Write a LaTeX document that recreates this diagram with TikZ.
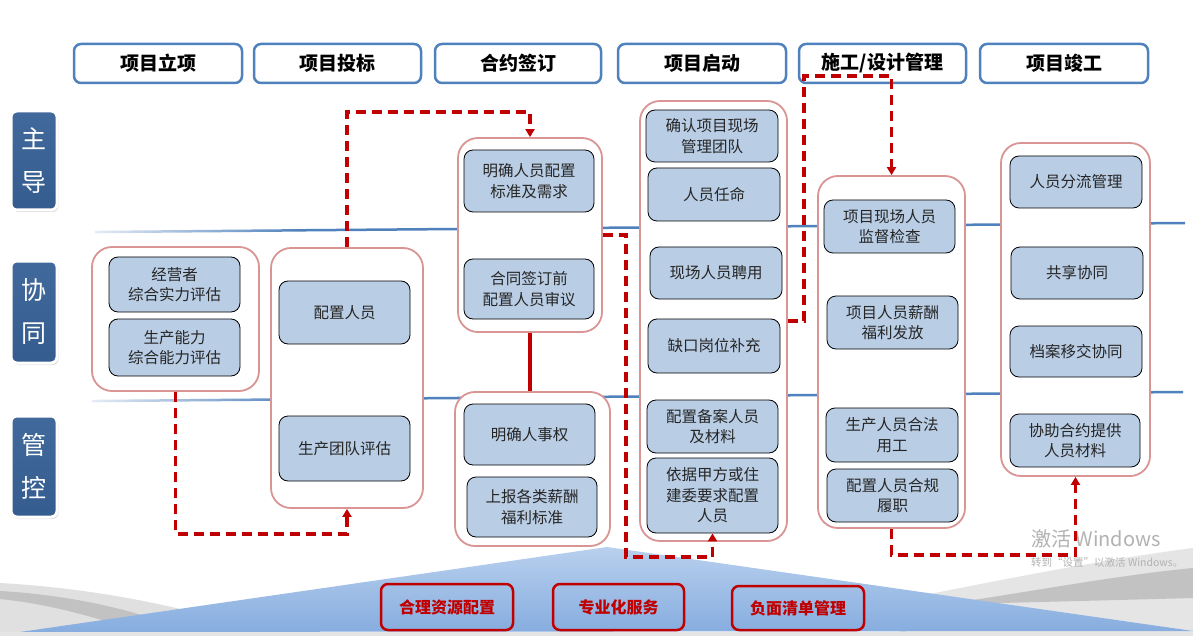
\documentclass[tikz,border=0pt]{standalone}
\usepackage{fontspec}
\newfontfamily\cjk{Noto Sans CJK SC}
\usetikzlibrary{arrows.meta,shadows}
\definecolor{hblue}{HTML}{4F81BD}
\definecolor{nblue}{HTML}{B9CDE5}
\definecolor{gpink}{HTML}{D99594}
\definecolor{dred}{HTML}{C00000}
\definecolor{sideblue}{HTML}{345C8F}
\definecolor{sidebluetop}{HTML}{41699B}
\definecolor{tritop}{HTML}{B9D0EE}
\definecolor{tribot}{HTML}{86ADDF}
\begin{document}
\begin{tikzpicture}[x=1pt,y=-1pt,
  head/.style={draw=hblue, line width=2.5pt, fill=white, rounded corners=7pt, inner sep=0pt,
    font=\cjk\bfseries\fontsize{19}{22}\selectfont, text=black},
  box/.style={draw=black, line width=0.8pt, fill=nblue, rounded corners=9pt, align=center,
    inner sep=0pt, font=\cjk\fontsize{15.5}{20.5}\selectfont, text=black!85},
  grp/.style={draw=gpink, line width=1.8pt, fill=white, rounded corners=20pt, inner sep=0pt},
  side/.style={top color=sidebluetop, bottom color=sideblue, draw=white, line width=3pt,
    rounded corners=6pt, drop shadow={opacity=0.3, shadow xshift=1.5pt, shadow yshift=-2pt},
    text=white, align=center, inner sep=0pt, font=\cjk\fontsize{25}{43}\selectfont},
  redbox/.style={draw=dred, line width=2.5pt, rounded corners=7pt, inner sep=0pt,
    font=\cjk\bfseries\fontsize{16}{20}\selectfont, text=dred},
  conn/.style={draw=dred, line width=3.2pt, dash pattern=on 10pt off 6pt},
  tip/.style={-{Triangle[length=8pt,width=9pt]}},
  wmark/.style={text=black!30, anchor=west, inner sep=0pt}
]
\useasboundingbox (0,0) rectangle (1193,636);
\fill[white] (0,0) rectangle (1193,636);

% ---------- bottom background ----------
\fill[black!12] (0,583) .. controls (90,588) and (190,606) .. (270,636) -- (0,636) -- cycle;
\fill[black!24] (0,591) .. controls (70,595) and (140,610) .. (200,636) -- (150,636) .. controls (100,618) and (50,604) .. (0,599) -- cycle;
\fill[black!10] (900,600) .. controls (1000,580) and (1100,560) .. (1193,548) -- (1193,636) -- (900,636) -- cycle;
\fill[black!24] (960,602) .. controls (1040,590) and (1120,575) .. (1193,568) -- (1193,598) .. controls (1120,600) and (1040,602) .. (960,604) -- cycle;
\shade[top color=tritop, bottom color=tribot] (20,632) -- (607,547) -- (1193,631) -- cycle;
\fill[black!10] (0,632) rectangle (1193,636);

% ---------- watermark ----------
\node[wmark, font=\cjk\fontsize{20}{22}\selectfont] (wm1) at (1031,539) {激活 Windows};
\node[wmark, font=\cjk\fontsize{10.5}{12}\selectfont] (wm2) at (1031,563) {转到“设置”以激活 Windows。};

% ---------- swim-lane lines ----------
\shade[left color=hblue!15, right color=hblue] (95,230.8) -- (300,229.1) -- (300,231.6) -- (95,233.3) -- cycle;
\draw[hblue, line width=2.5pt] (300,230.3) -- (1185,223);
\shade[left color=hblue!15, right color=hblue] (92,399.8) -- (300,398.1) -- (300,400.6) -- (92,402.3) -- cycle;
\draw[hblue, line width=2.5pt] (300,399.3) -- (1183,392);

% ---------- headers ----------
\node[head, minimum width=168pt, minimum height=39pt] (h1) at (158,63.5) {项目立项};
\node[head, minimum width=167pt, minimum height=39pt] (h2) at (337.5,63.5) {项目投标};
\node[head, minimum width=166pt, minimum height=39pt] (h3) at (518,63.5) {合约签订};
\node[head, minimum width=168pt, minimum height=39pt] (h4) at (702,63.5) {项目启动};
\node[head, minimum width=167pt, minimum height=39pt] (h5) at (882.5,63.5) {施工/设计管理};
\node[head, minimum width=168pt, minimum height=39pt] (h6) at (1064,63.5) {项目竣工};

% ---------- side labels ----------
\node[side, minimum width=46pt, minimum height=99pt] (s1) at (34,160.5) {主\\导};
\node[side, minimum width=46pt, minimum height=102pt] (s2) at (34,312) {协\\同};
\node[side, minimum width=46pt, minimum height=101pt] (s3) at (34,466.5) {管\\控};

% ---------- groups ----------
\node[grp, minimum width=167pt, minimum height=144pt] (G1) at (175.5,319) {};
\node[grp, minimum width=152pt, minimum height=260pt] (G2) at (347,378) {};
\node[grp, minimum width=144pt, minimum height=194pt] (G3a) at (530,235) {};
\node[grp, minimum width=155pt, minimum height=154pt] (G3b) at (532.5,469) {};
\node[grp, minimum width=147pt, minimum height=440pt] (G4) at (713.5,321) {};
\node[grp, minimum width=147pt, minimum height=352pt] (G5) at (891.5,352) {};
\node[grp, minimum width=149pt, minimum height=333pt] (G6) at (1075.5,309.5) {};

% ---------- inner boxes ----------
\node[box, minimum width=131pt, minimum height=55pt] (a1) at (174.5,284.5) {经营者\\综合实力评估};
\node[box, minimum width=131pt, minimum height=57pt] (a2) at (174.5,347.5) {生产能力\\综合能力评估};
\node[box, minimum width=131pt, minimum height=63pt] (b1) at (344.5,312.5) {配置人员};
\node[box, minimum width=131pt, minimum height=65pt] (b2) at (344.5,448.5) {生产团队评估};
\node[box, minimum width=130pt, minimum height=62pt] (c1) at (529,181) {明确人员配置\\标准及需求};
\node[box, minimum width=130pt, minimum height=60pt] (c2) at (529,289) {合同签订前\\配置人员审议};
\node[box, minimum width=131pt, minimum height=61pt] (c3) at (529.5,434.5) {明确人事权};
\node[box, minimum width=130pt, minimum height=60pt] (c4) at (532,507) {上报各类薪酬\\福利标准};
\node[box, minimum width=132pt, minimum height=52pt] (d1) at (712,136) {确认项目现场\\管理团队};
\node[box, minimum width=132pt, minimum height=53pt] (d2) at (714,194.5) {人员任命};
\node[box, minimum width=132pt, minimum height=52pt] (d3) at (716,273) {现场人员聘用};
\node[box, minimum width=132pt, minimum height=54pt] (d4) at (714,346) {缺口岗位补充};
\node[box, minimum width=131pt, minimum height=53pt] (d5) at (712.5,426.5) {配置备案人员\\及材料};
\node[box, minimum width=131pt, minimum height=75pt] (d6) at (712.5,495.5) {依据甲方或住\\建委要求配置\\人员};
\node[box, minimum width=131pt, minimum height=53pt] (e1) at (889.5,226.5) {项目现场人员\\监督检查};
\node[box, minimum width=131pt, minimum height=53pt] (e2) at (892.5,322.5) {项目人员薪酬\\福利发放};
\node[box, minimum width=132pt, minimum height=54pt] (e3) at (892,435) {生产人员合法\\用工};
\node[box, minimum width=131pt, minimum height=53pt] (e4) at (892.5,495.5) {配置人员合规\\履职};
\node[box, minimum width=132pt, minimum height=52pt] (f1) at (1076,182) {人员分流管理};
\node[box, minimum width=132pt, minimum height=52pt] (f2) at (1077,273) {共享协同};
\node[box, minimum width=132pt, minimum height=51pt] (f3) at (1076,351.5) {档案移交协同};
\node[box, minimum width=130pt, minimum height=53pt] (f4) at (1075,440.5) {协助合约提供\\人员材料};

% ---------- bottom red boxes ----------
\node[redbox, minimum width=132pt, minimum height=46pt] (r1) at (447,607) {合理资源配置};
\node[redbox, minimum width=131pt, minimum height=46pt] (r2) at (618.5,607) {专业化服务};
\node[redbox, minimum width=132pt, minimum height=44pt] (r3) at (798,608) {负面清单管理};

% ---------- connectors ----------
\draw[conn, tip] (G1.south) -- ++(0,142) -| (G2.south);
\draw[conn, tip] (G2.north) -- ++(0,-135) -| (G3a.north);
\draw[dred, line width=3.2pt] (G3a.south) -- (G3a.south |- G3b.north);
\draw[conn, tip] (G3a.east) -- ++(23,0) -- ++(0,322) -| (d6.south);
\draw[conn, tip] (G4.east) -- ++(16,0) -- ++(0,-245) -| (G5.north);
\draw[conn, tip] (G5.south) -- ++(0,26) -| (G6.south);
\end{tikzpicture}
\end{document}
